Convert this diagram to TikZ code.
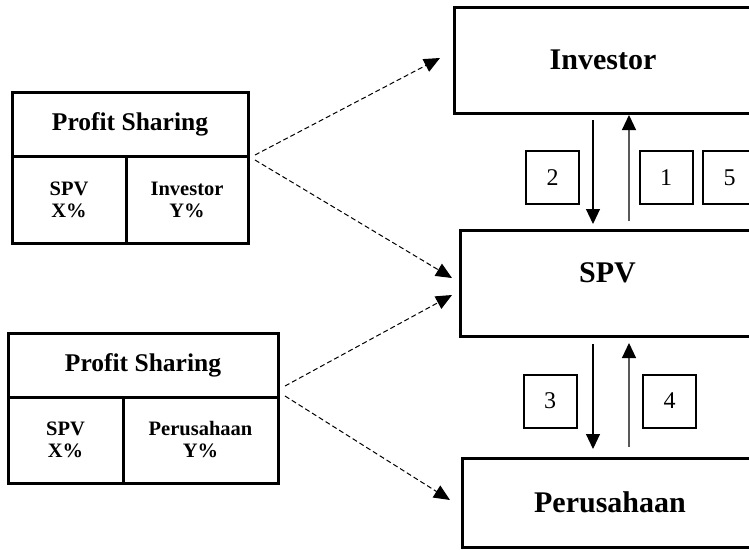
\documentclass[tikz,border=0pt]{standalone}
\usepackage{fontspec}
\setmainfont{Liberation Serif}
\usetikzlibrary{arrows.meta,calc}

\tikzset{
  frame/.style={draw, line width=3pt, inner sep=0pt, outer sep=0pt},
  headcell/.style={frame, font=\fontsize{25.5}{30}\selectfont\bfseries},
  sharecell/.style={frame, align=center, font=\fontsize{20.5}{22}\selectfont\bfseries},
  partybox/.style={frame},
  partyname/.style={inner sep=0pt, font=\fontsize{30}{36}\selectfont\bfseries},
  numbox/.style={draw, line width=2pt, minimum width=53pt, minimum height=53pt,
                 inner sep=0pt, outer sep=0pt, font=\fontsize{24}{28}\selectfont},
  flow/.style={line width=1.1pt, -{Triangle[length=15pt,width=14pt,color=black]}},
  backflow/.style={flow, draw=black!65},
  share/.style={line width=1pt, dash pattern=on 5pt off 3pt,
                -{Triangle[length=16pt,width=14pt]}}
}

\begin{document}
\begin{tikzpicture}[x=1pt,y=-1pt]
  \useasboundingbox (0,0) rectangle (749,549);

  % parties
  \node (inv) [partybox, minimum width=298pt, minimum height=106pt] at (603,60) {};
  \node (invt) [partyname] at (inv.center) {Investor};
  \node (spv) [partybox, minimum width=295pt, minimum height=106pt] at (607.5,283) {};
  \node (spvt) [partyname] at ($(spv.center)+(0,-10.5)$) {SPV};
  \node (per) [partybox, minimum width=296pt, minimum height=89pt] at (610,502.5) {};
  \node (pert) [partyname] at (per.center) {Perusahaan};

  % profit sharing between SPV and investor
  \node (h1) [headcell, minimum width=236pt, minimum height=64pt] at (130,124) {Profit Sharing};
  \node (a1) [sharecell, minimum width=114pt, minimum height=87pt] at (69,199.5) {SPV\\X\%};
  \node (b1) [sharecell, minimum width=122pt, minimum height=87pt] at (187,199.5) {Investor\\Y\%};

  % profit sharing between SPV and company
  \node (h2) [headcell, minimum width=270pt, minimum height=64pt] at (143,365) {Profit Sharing};
  \node (a2) [sharecell, minimum width=115pt, minimum height=86pt] at (65.5,440) {SPV\\X\%};
  \node (b2) [sharecell, minimum width=155pt, minimum height=86pt] at (200.5,440) {Perusahaan\\Y\%};

  % columns of the vertical flows
  \coordinate (colA) at (593,0);
  \coordinate (colB) at (629,0);

  \draw[flow] ($(inv.south -| colA)+(0,7)$) -- ($(spv.north -| colA)+(0,-6)$);
  \draw[backflow] ($(spv.north -| colB)+(0,-9)$) -- ($(inv.south -| colB)+(0,2)$);
  \draw[flow] ($(spv.south -| colA)+(0,8)$) -- ($(per.north -| colA)+(0,-9)$);
  \draw[backflow] ($(per.north -| colB)+(0,-11)$) -- ($(spv.south -| colB)+(0,7)$);

  % step numbers
  \node (n2) [numbox] at (552.5,177.5) {2};
  \node (n1) [numbox] at (666,177.5) {1};
  \node (n5) [numbox] at (729.5,177.5) {5};
  \node (n3) [numbox] at (550,401) {3};
  \node (n4) [numbox] at (669.5,401) {4};

  % links from the sharing tables
  \draw[share] ($(h1.south east)+(7,-1)$) -- ($(inv.west)+(-14,-2)$);
  \draw[share] ($(h1.south east)+(7,4)$) -- ($(spv.west)+(-8,-5)$);
  \draw[share] ($(h2.south east)+(7,-11)$) -- ($(spv.west)+(-8,12)$);
  \draw[share] ($(h2.south east)+(7,-1)$) -- ($(per.west)+(-12,-2.5)$);
\end{tikzpicture}
\end{document}
